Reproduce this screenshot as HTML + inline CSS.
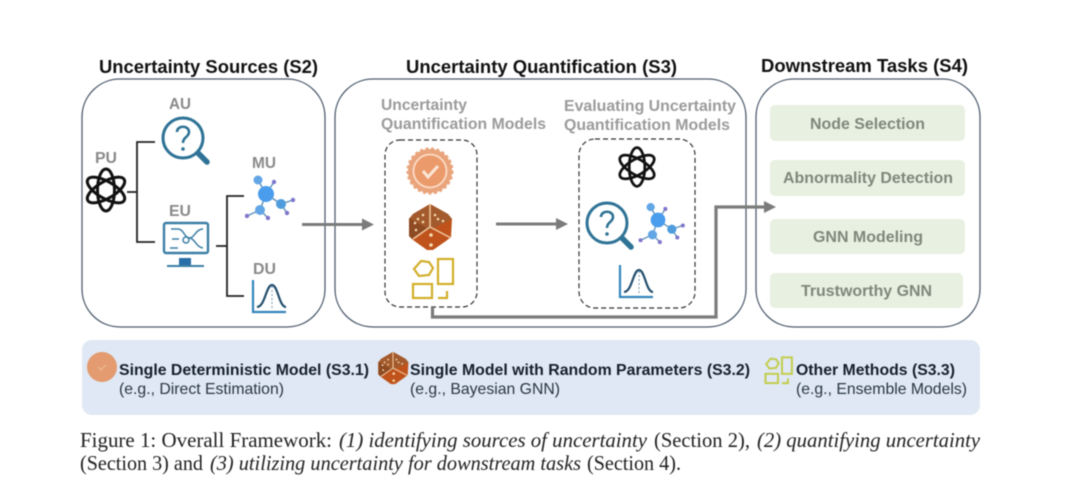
<!DOCTYPE html>
<html>
<head>
<meta charset="utf-8">
<style>
html,body{margin:0;padding:0;background:#fff;width:1080px;height:503px;overflow:hidden}
svg{display:block;filter:blur(0.6px)}
text{font-family:"Liberation Sans",sans-serif}
.t{font-weight:bold;font-size:18.6px;fill:#111}
.g{font-weight:bold;font-size:15.5px;fill:#8a8a8a}
.s{font-weight:bold;font-size:15.8px;fill:#9b9b9b}
.k{font-weight:bold;font-size:16px;fill:#7d887b}
.l{font-weight:bold;font-size:15.8px;fill:#16202c}
.e{font-size:15.6px;fill:#2b3644}
.c{font-family:"Liberation Serif",serif;font-size:20.6px;fill:#222}
.i{font-style:italic}
</style>
</head>
<body>
<svg width="1080" height="503" viewBox="0 0 1080 503" xmlns="http://www.w3.org/2000/svg">
<defs>
  <g id="atom" fill="none" stroke="#111" stroke-width="3">
    <ellipse cx="0" cy="0" rx="8.5" ry="21"/>
    <ellipse cx="0" cy="0" rx="8.5" ry="21" transform="rotate(60)"/>
    <ellipse cx="0" cy="0" rx="8.5" ry="21" transform="rotate(-60)"/>
  </g>
  <g id="au">
    <circle cx="0" cy="0" r="20" fill="#fff" stroke="#2f7396" stroke-width="3"/>
    <line x1="15" y1="15" x2="24" y2="24" stroke="#2f7396" stroke-width="5.5" stroke-linecap="round"/>
    <path d="M-6,-6 C-6,-13 6,-13 6,-6 C6,-1 0,-1 0,5" fill="none" stroke="#2f7396" stroke-width="2.6"/>
    <circle cx="0" cy="11" r="1.8" fill="#2f7396"/>
  </g>
  <g id="mu">
    <g stroke="#5d8fb8" stroke-width="1.4">
      <line x1="0" y1="0" x2="-8" y2="-14"/><line x1="0" y1="0" x2="8" y2="-12"/>
      <line x1="0" y1="0" x2="15" y2="10"/><line x1="15" y1="10" x2="27" y2="6"/>
      <line x1="15" y1="10" x2="21" y2="19"/><line x1="0" y1="0" x2="-6" y2="16"/>
      <line x1="-6" y1="16" x2="-19" y2="22"/><line x1="-6" y1="16" x2="2" y2="24"/>
    </g>
    <circle cx="0" cy="0" r="8" fill="#4a9cec"/>
    <circle cx="-8" cy="-14" r="4.5" fill="#62a6e6"/>
    <circle cx="15" cy="10" r="5" fill="#4f9ddc"/>
    <circle cx="-6" cy="16" r="5" fill="#62a6e6"/>
    <g fill="#7d76cc">
      <circle cx="8" cy="-12" r="2.2"/><circle cx="27" cy="6" r="2.2"/>
      <circle cx="21" cy="19" r="2.2"/><circle cx="-19" cy="22" r="2.2"/>
      <circle cx="2" cy="24" r="2.2"/>
    </g>
  </g>
  <g id="du">
    <path d="M0,0 V32 H33" fill="none" stroke="#3487bd" stroke-width="2.2"/>
    <path d="M4,27 C12,27 13,5 19,5 C25,5 26,27 33,27" fill="none" stroke="#24506f" stroke-width="2.2"/>
    <line x1="19" y1="6" x2="19" y2="28" stroke="#7b98ab" stroke-width="1" stroke-dasharray="2 2"/>
  </g>
  <g id="badge">
    <circle cx="0" cy="0" r="22" fill="#e9a47c" stroke="#e9a47c" stroke-width="3" stroke-dasharray="3 2.5"/>
    <circle cx="0" cy="0" r="16.5" fill="#eb9b6b" stroke="#fbdcc6" stroke-width="1.8"/>
    <path d="M-7,0 L-2,6 L8,-5" fill="none" stroke="#fbe6d8" stroke-width="3"/>
  </g>
  <g id="dice">
    <polygon points="0,-23 18,-13 22,-8 21,10 16,14 3,23 -3,23 -17,13 -21,9 -21,-8 -17,-13" fill="#c0531c"/>
    <polygon points="0,-23 18,-13 22,-8 0,3 -21,-8 -17,-13" fill="#a35a2c"/>
    <polygon points="-21,-9 0,3 -3,3 -18,12 -21,9" fill="#8e4a22"/>
    <path d="M0,-23 V0 M0,0 L21,11 M0,0 L-17,12" stroke="#f0c9a0" stroke-width="1.5" fill="none"/>
    <g fill="#f5d9b0">
      <circle cx="-7" cy="-12" r="1.3"/><circle cx="-12" cy="-8" r="1.3"/><circle cx="-15" cy="-4" r="1.3"/>
      <circle cx="-7" cy="-5" r="1.3"/><circle cx="-14" cy="3" r="1.3"/>
      <circle cx="8" cy="-8" r="1.3"/><circle cx="13" cy="-6" r="1.3"/><circle cx="5" cy="-12" r="1.3"/>
      <circle cx="1" cy="8" r="1.8"/><circle cx="1" cy="18" r="1.8"/>
    </g>
  </g>
  <g id="other" fill="none">
    <polygon points="8,1 16,2 20,8 16,15 6,16 1,9"/>
    <rect x="25" y="-1" width="15" height="25"/>
    <rect x="0" y="24" width="19" height="14"/>
    <path d="M34,31 V38 H25"/>
  </g>
  <g id="ah"><polygon points="0,0 -12,-6 -12,6" fill="#7b7b7b"/></g>
</defs>

<rect width="1080" height="503" fill="#fff"/>

<!-- titles -->
<text class="t" x="99" y="73" textLength="219" lengthAdjust="spacingAndGlyphs">Uncertainty Sources (S2)</text>
<text class="t" x="406" y="73" textLength="271" lengthAdjust="spacingAndGlyphs">Uncertainty Quantification (S3)</text>
<text class="t" x="761" y="72" textLength="207" lengthAdjust="spacingAndGlyphs">Downstream Tasks (S4)</text>

<!-- panels -->
<g fill="#fff" stroke="#4f5d6e" stroke-width="1.3">
  <rect x="82" y="79" width="243" height="248" rx="38"/>
  <rect x="335" y="79" width="411" height="248" rx="38"/>
  <rect x="756" y="79" width="224" height="248" rx="38"/>
</g>

<!-- S2 -->
<text class="g" x="95" y="163" textLength="22" lengthAdjust="spacingAndGlyphs">PU</text>
<text class="g" x="169" y="109" textLength="22" lengthAdjust="spacingAndGlyphs">AU</text>
<text class="g" x="169" y="216" textLength="22" lengthAdjust="spacingAndGlyphs">EU</text>
<text class="g" x="252" y="168" textLength="24" lengthAdjust="spacingAndGlyphs">MU</text>
<text class="g" x="253" y="274" textLength="23" lengthAdjust="spacingAndGlyphs">DU</text>

<use href="#atom" x="106" y="190"/>
<use href="#au" x="183" y="138"/>
<use href="#mu" x="266" y="194"/>
<use href="#du" x="253" y="280"/>

<g fill="none" stroke="#222" stroke-width="1.8">
  <path d="M155,142 H137 V242 H155"/>
  <path d="M127,192 H137"/>
  <path d="M244,196 H227 V296 H244"/>
  <path d="M216,246 H227"/>
</g>

<!-- EU monitor -->
<g>
  <rect x="164" y="223" width="44" height="30" rx="2" fill="#fff" stroke="#3c7fa6" stroke-width="2.4"/>
  <g fill="none" stroke="#3c7fa6" stroke-width="1.5">
    <path d="M171,229 H178 C184,229 184,238 190,238 C194,238 196,229 203,229"/>
    <path d="M190,238 C195,239 196,247 203,248"/>
    <path d="M172,239 H179"/><path d="M170,248 H178"/>
    <circle cx="186" cy="240" r="3"/>
  </g>
  <rect x="179" y="258" width="12" height="8" fill="#2a6ea8"/>
  <line x1="167" y1="266" x2="204" y2="266" stroke="#3c7fa6" stroke-width="2"/>
</g>

<!-- arrows -->
<line x1="302" y1="224.5" x2="364" y2="224.5" stroke="#7b7b7b" stroke-width="3"/>
<use href="#ah" x="374" y="224.5"/>
<line x1="496" y1="224" x2="558" y2="224" stroke="#7b7b7b" stroke-width="3"/>
<use href="#ah" x="568" y="224"/>

<!-- S3 headers -->
<text class="s" x="381" y="110" textLength="86" lengthAdjust="spacingAndGlyphs">Uncertainty</text>
<text class="s" x="381" y="129" textLength="165" lengthAdjust="spacingAndGlyphs">Quantification Models</text>
<text class="s" x="564" y="111" textLength="172" lengthAdjust="spacingAndGlyphs">Evaluating Uncertainty</text>
<text class="s" x="564" y="130" textLength="166" lengthAdjust="spacingAndGlyphs">Quantification Models</text>

<!-- dashed -->
<g fill="none" stroke="#333" stroke-width="1.2" stroke-dasharray="5 3">
  <rect x="385" y="140" width="92" height="167" rx="15"/>
  <rect x="579" y="139" width="116" height="169" rx="16"/>
</g>

<use href="#badge" x="430" y="171"/>
<use href="#dice" x="430" y="227"/>
<use href="#other" x="413" y="260" stroke="#d2ae2a" stroke-width="2.2"/>

<use href="#atom" transform="translate(637 167) scale(.92)"/>
<use href="#au" x="607" y="223"/>
<use href="#mu" transform="translate(658 220) scale(.92)"/>
<use href="#du" x="620" y="265"/>

<!-- long connector -->
<path d="M432.5,307 V317 H716 V207 H766" fill="none" stroke="#7b7b7b" stroke-width="3.2"/>
<use href="#ah" x="776" y="207"/>

<!-- tasks -->
<g fill="#e8f0e1">
  <rect x="770" y="105" width="195" height="36" rx="5"/>
  <rect x="770" y="160" width="195" height="36" rx="5"/>
  <rect x="770" y="219" width="195" height="35" rx="5"/>
  <rect x="770" y="273" width="193" height="35" rx="5"/>
</g>
<text class="k" x="810" y="129" textLength="115" lengthAdjust="spacingAndGlyphs">Node Selection</text>
<text class="k" x="783" y="183" textLength="170" lengthAdjust="spacingAndGlyphs">Abnormality Detection</text>
<text class="k" x="813" y="242" textLength="110" lengthAdjust="spacingAndGlyphs">GNN Modeling</text>
<text class="k" x="801" y="296" textLength="131" lengthAdjust="spacingAndGlyphs">Trustworthy GNN</text>

<!-- legend -->
<rect x="82" y="340" width="898" height="75" rx="10" fill="#dfe8f4"/>
<circle cx="102" cy="367" r="15" fill="#e39b6f"/>
<path d="M98,367 L101,370 L106,365" fill="none" stroke="#eeb48f" stroke-width="1.5"/>
<use href="#dice" transform="translate(393 368) scale(.7)"/>
<use href="#other" transform="translate(765.5 358) scale(.66)" stroke="#c3cd4c" stroke-width="3"/>

<text class="l" x="119" y="375" textLength="250" lengthAdjust="spacingAndGlyphs">Single Deterministic Model (S3.1)</text>
<text class="e" x="119" y="394" textLength="165" lengthAdjust="spacingAndGlyphs">(e.g., Direct Estimation)</text>
<text class="l" x="410" y="375" textLength="340" lengthAdjust="spacingAndGlyphs">Single Model with Random Parameters (S3.2)</text>
<text class="e" x="410" y="394" textLength="150" lengthAdjust="spacingAndGlyphs">(e.g., Bayesian GNN)</text>
<text class="l" x="796" y="375" textLength="159" lengthAdjust="spacingAndGlyphs">Other Methods (S3.3)</text>
<text class="e" x="796" y="394" textLength="171" lengthAdjust="spacingAndGlyphs">(e.g., Ensemble Models)</text>

<!-- caption -->
<text class="c" x="80" y="447" textLength="252" lengthAdjust="spacingAndGlyphs">Figure 1: Overall Framework:</text>
<text class="c i" x="339" y="447" textLength="308" lengthAdjust="spacingAndGlyphs">(1) identifying sources of uncertainty</text>
<text class="c" x="654" y="447" textLength="96" lengthAdjust="spacingAndGlyphs">(Section 2),</text>
<text class="c i" x="757" y="447" textLength="223" lengthAdjust="spacingAndGlyphs">(2) quantifying uncertainty</text>
<text class="c" x="80" y="470" textLength="123" lengthAdjust="spacingAndGlyphs">(Section 3) and</text>
<text class="c i" x="210" y="470" textLength="371" lengthAdjust="spacingAndGlyphs">(3) utilizing uncertainty for downstream tasks</text>
<text class="c" x="587" y="470" textLength="94" lengthAdjust="spacingAndGlyphs">(Section 4).</text>
</svg>
</body>
</html>
